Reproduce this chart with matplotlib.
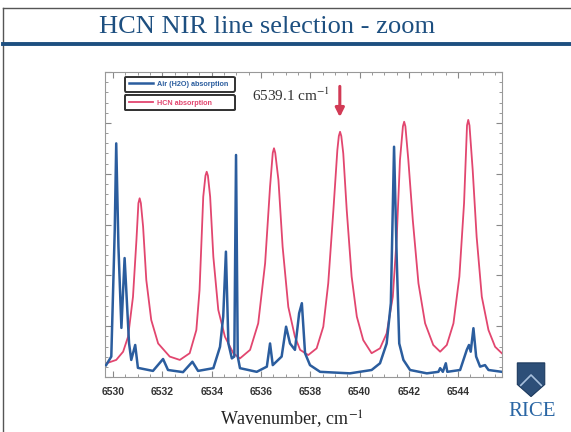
import matplotlib
matplotlib.use("Agg")
import matplotlib.pyplot as plt
from matplotlib.lines import Line2D
from matplotlib.patches import Polygon
from matplotlib.ticker import MultipleLocator

# --- data (wavenumber in cm-1, absorption in arbitrary units) ---
air_wn = [6529.72, 6529.93, 6530.07, 6530.13, 6530.22, 6530.34, 6530.47, 6530.65,
          6530.74, 6530.90, 6531.01, 6531.62, 6532.03, 6532.23, 6532.84, 6533.22,
          6533.45, 6534.07, 6534.34, 6534.47, 6534.58, 6534.68, 6534.82, 6534.92,
          6534.99, 6535.06, 6535.15, 6535.83, 6536.24, 6536.37, 6536.48, 6536.84,
          6537.02, 6537.18, 6537.38, 6537.55, 6537.66, 6537.79, 6537.99, 6538.40,
          6539.61, 6540.49, 6540.83, 6541.10, 6541.27, 6541.40, 6541.51, 6541.61,
          6541.78, 6542.05, 6542.73, 6543.20, 6543.27, 6543.38, 6543.50, 6543.56,
          6544.08, 6544.35, 6544.44, 6544.51, 6544.62, 6544.73, 6544.89, 6545.09,
          6545.23, 6545.77]
air_abs = [0.039, 0.067, 0.482, 0.766, 0.427, 0.161, 0.390, 0.111,
           0.056, 0.105, 0.030, 0.020, 0.059, 0.023, 0.016, 0.050,
           0.020, 0.029, 0.099, 0.198, 0.411, 0.110, 0.061, 0.067,
           0.728, 0.067, 0.029, 0.017, 0.034, 0.110, 0.039, 0.067,
           0.165, 0.110, 0.089, 0.209, 0.242, 0.078, 0.039, 0.017,
           0.012, 0.023, 0.045, 0.110, 0.242, 0.755, 0.384, 0.110,
           0.056, 0.023, 0.012, 0.017, 0.029, 0.017, 0.045, 0.017,
           0.023, 0.089, 0.105, 0.083, 0.160, 0.067, 0.034, 0.039,
           0.023, 0.017]

hcn_wn = [6529.73, 6530.13, 6530.41, 6530.61, 6530.81, 6530.95, 6531.03, 6531.08,
          6531.13, 6531.22, 6531.35, 6531.55, 6531.83, 6532.30, 6532.71, 6533.11,
          6533.38, 6533.51, 6533.66, 6533.75, 6533.80, 6533.85, 6533.94, 6534.07,
          6534.27, 6534.54, 6534.88, 6535.15, 6535.56, 6535.89, 6536.17, 6536.37,
          6536.48, 6536.53, 6536.58, 6536.71, 6536.88, 6537.11, 6537.38, 6537.59,
          6537.92, 6538.26, 6538.53, 6538.73, 6538.94, 6539.10, 6539.16, 6539.21,
          6539.26, 6539.34, 6539.48, 6539.68, 6539.89, 6540.15, 6540.49, 6540.83,
          6541.10, 6541.35, 6541.51, 6541.64, 6541.76, 6541.81, 6541.86, 6541.98,
          6542.16, 6542.39, 6542.66, 6542.99, 6543.27, 6543.54, 6543.81, 6544.05,
          6544.24, 6544.36, 6544.41, 6544.46, 6544.59, 6544.75, 6544.96, 6545.23,
          6545.50, 6545.77]
hcn_abs = [0.045, 0.056, 0.083, 0.132, 0.263, 0.449, 0.570, 0.586,
           0.570, 0.493, 0.318, 0.187, 0.110, 0.067, 0.056, 0.078,
           0.154, 0.285, 0.591, 0.660, 0.673, 0.660, 0.591, 0.394,
           0.220, 0.132, 0.078, 0.061, 0.089, 0.176, 0.373, 0.624,
           0.735, 0.750, 0.735, 0.646, 0.427, 0.230, 0.132, 0.089,
           0.072, 0.094, 0.165, 0.307, 0.548, 0.744, 0.790, 0.804,
           0.790, 0.733, 0.548, 0.329, 0.198, 0.121, 0.078, 0.094,
           0.143, 0.263, 0.460, 0.711, 0.822, 0.837, 0.822, 0.711,
           0.515, 0.307, 0.176, 0.105, 0.083, 0.105, 0.176, 0.329,
           0.570, 0.825, 0.843, 0.825, 0.679, 0.460, 0.263, 0.154,
           0.099, 0.078]

selected_line = 6539.2
selected_label = r"6539.1 cm$^{-1}$"
x_limits = (6529.675, 6545.78)

AIR_COLOR = "#2b5d9e"
HCN_COLOR = "#e2466f"
TITLE_COLOR = "#1d4f80"

plt.rcParams["mathtext.fontset"] = "stix"

fig = plt.figure(figsize=(5.71, 4.32), dpi=100)
fig.patch.set_facecolor("white")

# slide frame + title rule
fig.add_artist(Line2D([0.005, 1.0], [0.981, 0.981], color="#555555", lw=1.0))
fig.add_artist(Line2D([0.005, 0.005], [0.0, 0.981], color="#555555", lw=1.0))
fig.add_artist(Line2D([0.005, 1.0], [0.897, 0.897], color=TITLE_COLOR, lw=2.8))
fig.text(0.467, 0.938, "HCN NIR line selection - zoom", family="Liberation Serif",
         fontsize=19, color=TITLE_COLOR, ha="center", va="center")

ax = fig.add_axes([0.1839, 0.1273, 0.6953, 0.7060])
ax.plot(air_wn, air_abs, color=AIR_COLOR, lw=1.8, label="Air (H2O) absorption",
        zorder=3, solid_joinstyle="round")
ax.plot(hcn_wn, hcn_abs, color=HCN_COLOR, lw=1.3, label="HCN absorption",
        zorder=2, solid_joinstyle="round")

ax.set_xlim(*x_limits)
ax.set_ylim(0, 1)
ax.xaxis.set_major_locator(MultipleLocator(2))
ax.xaxis.set_minor_locator(MultipleLocator(0.5))
ax.yaxis.set_major_locator(MultipleLocator(1 / 6))
ax.yaxis.set_minor_locator(MultipleLocator(1 / 30))
ax.tick_params(which="both", direction="in", top=True, right=True, color="#888888")
ax.tick_params(which="major", length=4, width=0.8)
ax.tick_params(which="minor", length=2, width=0.6)
ax.tick_params(axis="x", labelsize=7.5, labelcolor="#333333", pad=7)
ax.tick_params(axis="y", labelleft=False)
for lab in ax.get_xticklabels():
    lab.set_family("Liberation Sans")
    lab.set_fontweight("bold")
for sp in ax.spines.values():
    sp.set_color("#999999")
    sp.set_linewidth(0.8)

# two separate boxed legend entries as on the slide, same width
handles, labels = ax.get_legend_handles_labels()
legend_y = [0.985, 0.923]
for h, l, c, y in zip(handles, labels, [AIR_COLOR, HCN_COLOR], legend_y):
    leg = ax.legend([h], [l], loc="upper left", bbox_to_anchor=(0.050, y, 0.277, 0.0),
                    mode="expand", handlelength=3.3, handletextpad=0.6,
                    borderpad=0.55, borderaxespad=0.0, fancybox=True, framealpha=1,
                    prop={"family": "Liberation Sans", "weight": "bold", "size": 5.2})
    leg.get_frame().set_edgecolor("#333333")
    leg.get_frame().set_linewidth(1.4)
    for t in leg.get_texts():
        t.set_color(c)
    ax.add_artist(leg)

ax.annotate("", xy=(selected_line, 0.843), xytext=(selected_line, 0.962),
            arrowprops=dict(arrowstyle="-|>", color="#d23a55", lw=2.2, mutation_scale=13))
ax.text(selected_line - 0.4, 0.925, selected_label, family="Liberation Serif",
        fontsize=11, color="#333333", ha="right", va="center")

fig.text(0.511, 0.030, r"Wavenumber, cm$^{-1}$", family="Liberation Serif",
         fontsize=13, color="#222222", ha="center", va="center")

# Rice shield + wordmark
shield = Polygon([[0.906, 0.160], [0.954, 0.160], [0.954, 0.110], [0.930, 0.082],
                  [0.906, 0.110]], closed=True, transform=fig.transFigure,
                 facecolor="#2d4f78", edgecolor="#1d3a5e", lw=0.8)
fig.add_artist(shield)
fig.add_artist(Line2D([0.912, 0.930, 0.948], [0.108, 0.132, 0.108],
                      color="#a8c0dc", lw=1.2))
fig.text(0.9325, 0.047, "RICE", family="Liberation Serif", fontsize=15,
         color="#2a66a4", ha="center", va="center")

fig.savefig("out.png", dpi=100)
